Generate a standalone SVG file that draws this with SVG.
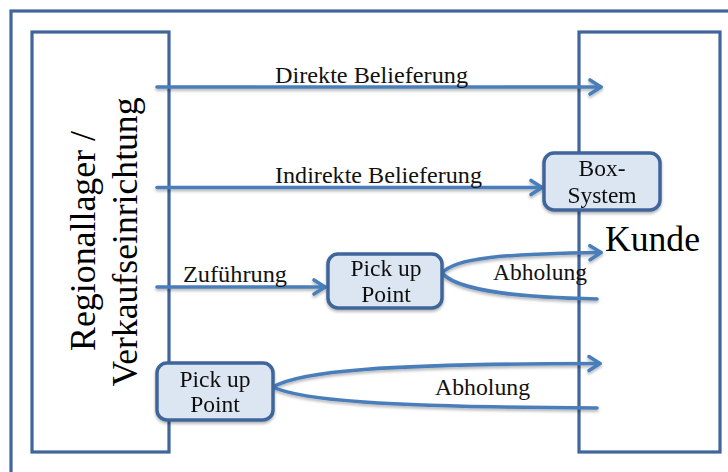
<svg xmlns="http://www.w3.org/2000/svg" width="728" height="472" viewBox="0 0 728 472">
  <style>
    .frame { fill: none; stroke: #3f659a; stroke-width: 3.2; }
    .node rect { fill: #dce6f2; stroke: #3f659a; stroke-width: 3.5; }
    .lbl { font-family: "Liberation Serif", "Times New Roman", serif; font-size: 23.5px; fill: #111; }
    .big { font-family: "Liberation Serif", "Times New Roman", serif; font-size: 35px; fill: #000; }
    .conn path { fill: none; stroke: #4a7ebb; stroke-width: 3.6; stroke-linecap: round; }
  </style>
  <defs>
    <filter id="shadow" x="-10%" y="-50%" width="120%" height="200%">
      <feDropShadow dx="0" dy="2" stdDeviation="1.4" flood-color="#000" flood-opacity="0.3"/>
    </filter>
    <marker id="head" markerUnits="userSpaceOnUse" markerWidth="20" markerHeight="20" refX="14" refY="10" orient="auto">
      <path d="M3,3 L14,10 L3,17" fill="none" stroke="#4a7ebb" stroke-width="3.6" stroke-linecap="round" stroke-linejoin="round"/>
    </marker>
  </defs>

  <rect width="728" height="472" fill="#fff"/>

  <!-- outer frame, running off the right and bottom edges -->
  <rect class="frame" x="11" y="11" width="740" height="480"/>

  <!-- sender block -->
  <g id="regionallager">
    <rect class="frame" x="32" y="32" width="137" height="420"/>
    <text class="big" text-anchor="middle" transform="translate(95,241) rotate(-90)" textLength="220" lengthAdjust="spacingAndGlyphs">Regionallager /</text>
    <text class="big" text-anchor="middle" transform="translate(137,242) rotate(-90)" textLength="289" lengthAdjust="spacingAndGlyphs">Verkaufseinrichtung</text>
  </g>

  <!-- customer block -->
  <g id="kunde">
    <rect class="frame" x="579" y="32" width="141" height="420"/>
    <text class="big" x="605" y="251" textLength="95" lengthAdjust="spacingAndGlyphs">Kunde</text>
  </g>

  <!-- connectors -->
  <g id="connectors" class="conn" filter="url(#shadow)">
    <path d="M157,87 L601,87" marker-end="url(#head)"/>
    <path d="M157,187.5 L542,187.5" marker-end="url(#head)"/>
    <path d="M157,287 L325,287" marker-end="url(#head)"/>
    <path d="M442,273 C455,258 500,254 601,252.5" marker-end="url(#head)"/>
    <path d="M442,273 C455,288 500,297 597,299"/>
    <path d="M273,387 C300,371 380,364 600,363.5" marker-end="url(#head)"/>
    <path d="M273,387 C300,400 380,407 597,408"/>
  </g>

  <!-- connector labels -->
  <g id="labels">
    <text class="lbl" x="275" y="82.5" textLength="193" lengthAdjust="spacingAndGlyphs">Direkte Belieferung</text>
    <text class="lbl" x="275" y="182.5" textLength="207" lengthAdjust="spacingAndGlyphs">Indirekte Belieferung</text>
    <text class="lbl" x="183" y="281.5" textLength="104" lengthAdjust="spacingAndGlyphs">Zuführung</text>
    <text class="lbl" x="493" y="280" textLength="94" lengthAdjust="spacingAndGlyphs">Abholung</text>
    <text class="lbl" x="435" y="395" textLength="95" lengthAdjust="spacingAndGlyphs">Abholung</text>
  </g>

  <g id="box-system" class="node" filter="url(#shadow)">
    <rect x="544" y="153" width="116" height="57" rx="10"/>
    <text class="lbl" x="602" y="176" text-anchor="middle">Box-</text>
    <text class="lbl" x="602" y="203" text-anchor="middle">System</text>
  </g>

  <g id="pickup-1" class="node" filter="url(#shadow)">
    <rect x="328" y="254" width="114" height="54" rx="10"/>
    <text class="lbl" x="386" y="276" text-anchor="middle">Pick up</text>
    <text class="lbl" x="386" y="302" text-anchor="middle">Point</text>
  </g>

  <g id="pickup-2" class="node" filter="url(#shadow)">
    <rect x="157" y="363" width="116" height="57" rx="10"/>
    <text class="lbl" x="215" y="387" text-anchor="middle">Pick up</text>
    <text class="lbl" x="215" y="412" text-anchor="middle">Point</text>
  </g>
</svg>
